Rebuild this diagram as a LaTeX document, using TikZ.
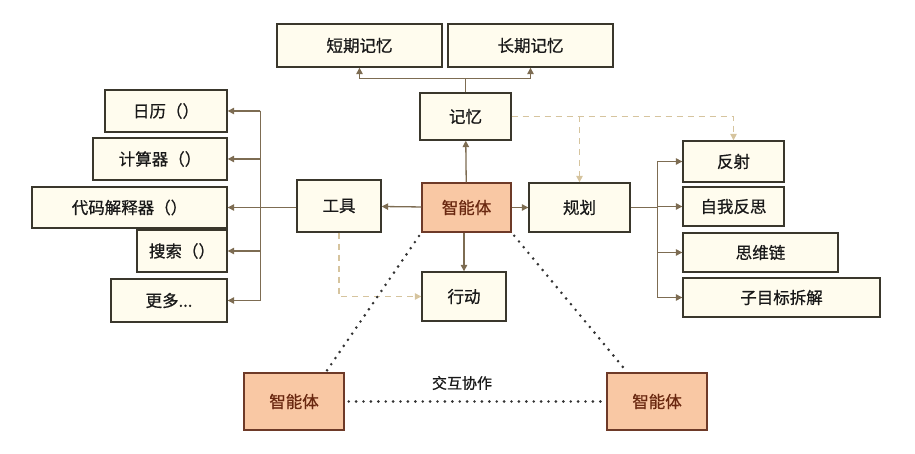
\documentclass[tikz,border=0pt]{standalone}
\usepackage{fontspec}
\setmainfont[FakeBold=0.7]{Noto Sans CJK SC}
\usetikzlibrary{arrows.meta,positioning}

\definecolor{boxfill}{HTML}{FFFCEE}
\definecolor{boxline}{HTML}{3A372C}
\definecolor{agentfill}{HTML}{F9C8A4}
\definecolor{agentline}{HTML}{6E3A28}
\definecolor{agenttext}{HTML}{6A2810}
\definecolor{linkcol}{HTML}{7D6C52}
\definecolor{dashcol}{HTML}{D6C49E}

\tikzset{
  blk/.style={draw=boxline, fill=boxfill, line width=1.4pt, inner sep=0pt,
    font=\fontsize{16.5}{18}\selectfont, text=black!90},
  agent/.style={blk, draw=agentline, fill=agentfill, text=agenttext},
  arr/.style={draw=linkcol, line width=1.3pt, -{Triangle[width=6.5pt,length=6.5pt]}},
  link/.style={draw=linkcol, line width=1.3pt},
  dasharr/.style={draw=dashcol, line width=1.3pt, dash pattern=on 6pt off 5pt,
    -{Triangle[width=6.5pt,length=6.5pt]}},
  dots/.style={draw=black!80, line width=2.9pt, line cap=round,
    dash pattern=on 0pt off 7.4pt}
}

\begin{document}
\begin{tikzpicture}[x=1pt,y=-1pt]
\useasboundingbox (0,0) rectangle (915,454);

% memory
\node[blk, minimum width=165pt, minimum height=43pt] (stm) at (359.5,45.5) {短期记忆};
\node[blk, minimum width=165pt, minimum height=43pt] (ltm) at (530.5,45.5) {长期记忆};
\node[blk, minimum width=91pt, minimum height=47pt] (mem) at (465.5,116.5) {记忆};

% centre row
\node[agent, minimum width=89pt, minimum height=49pt] (agent) at (466.5,207.5) {智能体};
\node[blk, minimum width=101pt, minimum height=49pt] (plan) at (579.5,207.5) {规划};
\node[blk, minimum width=84pt, minimum height=52pt] (tool) at (339,206) {工具};
\node[blk, minimum width=84pt, minimum height=49pt] (act) at (464,296.5) {行动};

% tools
\node[blk, minimum width=122pt, minimum height=42pt] (cal) at (166,111) {日历（）};
\node[blk, minimum width=134pt, minimum height=42pt] (calc) at (160,159) {计算器（）};
\node[blk, minimum width=195pt, minimum height=41pt] (code) at (129.5,207.5) {代码解释器（）};
\node[blk, minimum width=90pt, minimum height=42pt] (srch) at (182,251) {搜索（）};
\node[blk, minimum width=116pt, minimum height=43pt] (more) at (169,300.5) {更多...};

% planning
\node[blk, minimum width=101pt, minimum height=41pt] (refl) at (733.5,161.5) {反射};
\node[blk, minimum width=101pt, minimum height=39pt] (selfr) at (733.5,206.5) {自我反思};
\node[blk, minimum width=155pt, minimum height=39pt] (cot) at (760.5,252.5) {思维链};
\node[blk, minimum width=197pt, minimum height=39pt] (subg) at (781.5,297.5) {子目标拆解};

% other agents
\node[agent, minimum width=100pt, minimum height=57pt] (agL) at (294,401.5) {智能体};
\node[agent, minimum width=100pt, minimum height=57pt] (agR) at (657,401.5) {智能体};
\node[font=\fontsize{15}{17}\selectfont, text=black!90] (collab) at (462,383) {交互协作};

% solid links
\draw[arr] (agent) -- (mem);
\draw[arr] (agent) -- (plan);
\draw[arr] (agent) -- (tool);
\draw[arr] (agent.south -| act.north) -- (act);
\draw[link] (mem.north) -- ++(0,-14) coordinate (mj);
\draw[arr] (mj) -| (stm.south);
\draw[arr] (mj) -| (ltm.south);

\draw[link] (tool.west |- code.east) -- ++(-36,0) coordinate (tj);
\foreach \t in {cal,calc,code,srch,more}
  \draw[arr] (tj |- cal.east) -- (tj |- more.east) (tj |- \t.east) -- (\t.east);

\draw[link] (plan.east) -- ++(27,0) coordinate (pj);
\foreach \p in {refl,selfr,cot,subg}
  \draw[arr] (pj |- refl.west) -- (pj |- subg.west) (pj |- \p.west) -- (\p.west);

% dashed links
\draw[dasharr] (mem.east) -| (refl.north);
\draw[dasharr] (mem.east -| plan.north) -- (plan.north);
\draw[dasharr] (tool.south) |- (act.west);

% dotted links
\draw[dots, shorten <=4pt, shorten >=2pt] (agent.south west) -- ([xshift=-19pt]agL.north east);
\draw[dots, shorten <=4pt, shorten >=2pt] (agent.south east) -- ([xshift=21pt]agR.north west);
\draw[dots, shorten <=4pt, shorten >=6pt] (agL.east) -- (agR.west);
\end{tikzpicture}
\end{document}
